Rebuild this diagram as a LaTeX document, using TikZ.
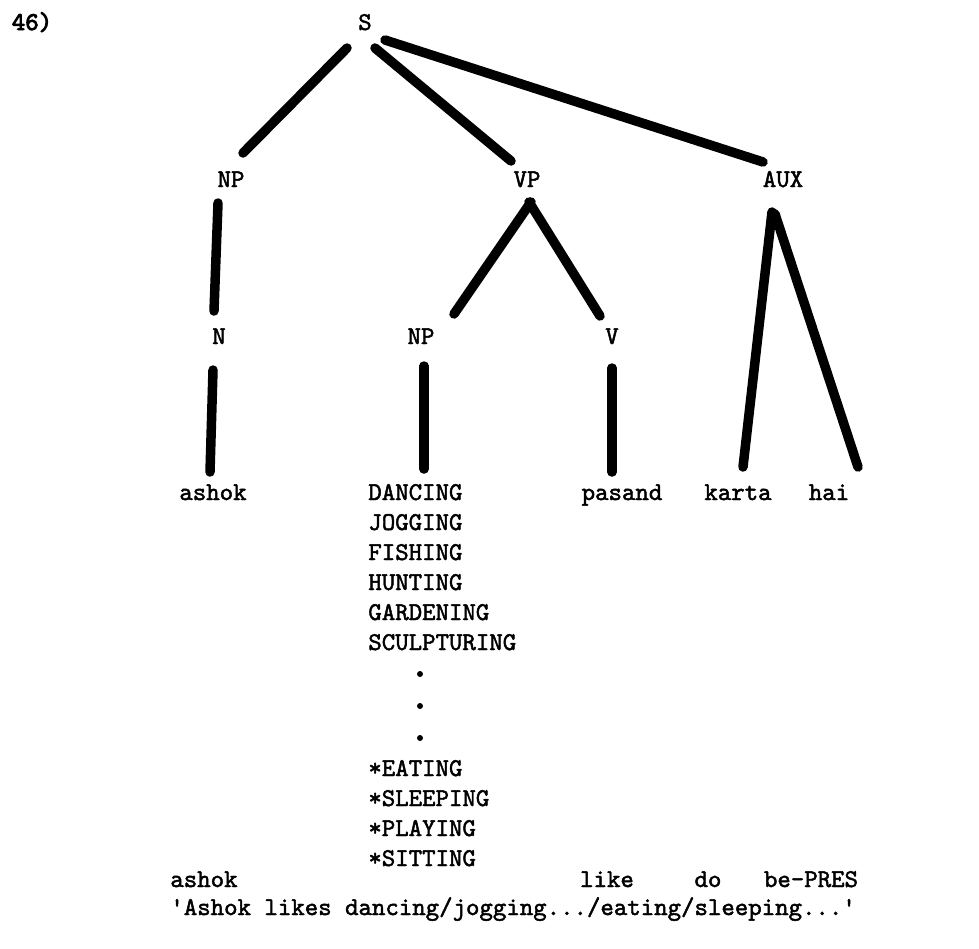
\documentclass[tikz,border=0pt]{standalone}
\usepackage{fontspec}
\newfontfamily\typed{lmmono10-regular.otf}[FakeBold=1.8]
\newfontfamily\typedbold{lmmono10-regular.otf}[FakeBold=3.5]
\usepackage{tikz}
\tikzset{every picture/.style={line width=0.75pt}}
\tikzset{branch/.style={line width=9.5pt,line cap=round}}
\tikzset{word/.style={inner sep=0pt,anchor=base,font=\fontsize{25.6}{30}\typed}}

\begin{document}
\begin{tikzpicture}[x=1pt,y=-1pt]
\useasboundingbox (0,0) rectangle (979,948);
\node[word,font=\fontsize{25.6}{30}\typedbold] (num) at (32,30) {46)};
%
\node[word] (S) at (365,30) {S};
\node[word] (NP) at (231,187) {NP};
\node[word] (VP) at (527,187) {VP};
\node[word] (AUX) at (783,187) {AUX};
\node[word] (N) at (219,344) {N};
\node[word] (NPb) at (421,344) {NP};
\node[word] (V) at (612,344) {V};
\node[word] (ashok) at (213,500) {ashok};
\node[word] (pasand) at (622,500) {pasand};
\node[word] (karta) at (738,500) {karta};
\node[word] (hai) at (829,500) {hai};
%
\foreach \w [count=\i from 0] in {DANCING,JOGGING,FISHING,HUNTING,GARDENING,SCULPTURING}
  \node[word,anchor=base west] (l\i) at (368,{500+30*\i}) {\w};
\foreach \y in {674,706,738}
  \fill (420,\y) circle (3);
\foreach \w [count=\i from 0] in {*EATING,*SLEEPING,*PLAYING,*SITTING}
  \node[word,anchor=base west] (s\i) at (368,{776+30*\i}) {\w};
%
\node[word,anchor=base west] (gashok) at (170,887) {ashok};
\node[word] (glike) at (607,887) {like};
\node[word] (gdo) at (708,887) {do};
\node[word] (gbe) at (811,887) {be-PRES};
\node[word,anchor=base west] (trans) at (170,915) {'Ashok likes dancing/jogging.../eating/sleeping...'};
%
\draw[branch] ([shift={(-18,18)}]S.base) -- ([shift={(12,-34)}]NP.base);
\draw[branch] ([shift={(10,18)}]S.base) -- ([shift={(-16,-26)}]VP.base);
\draw[branch] ([shift={(20,10)}]S.base) -- ([shift={(-20,-25)}]AUX.base);
\draw[branch] ([shift={(-13,16)}]NP.base) -- ([shift={(-5,-33)}]N.base);
\draw[branch] ([shift={(-6,26)}]N.base) -- ([shift={(-3,-28)}]ashok.base);
\draw[branch] ([shift={(4,15)}]VP.base) -- ([shift={(33,-30)}]NPb.base);
\draw[branch] ([shift={(2,15)}]VP.base) -- ([shift={(-12,-28)}]V.base);
\draw[branch] ([shift={(3,22)}]NPb.base) -- ([shift={(56,-31)}]l0.base west);
\draw[branch] ([shift={(0,24)}]V.base) -- ([shift={(-10,-28)}]pasand.base);
\draw[branch] ([shift={(-11,25)}]AUX.base) -- ([shift={(5,-33)}]karta.base);
\draw[branch] ([shift={(-8,27)}]AUX.base) -- ([shift={(29,-33)}]hai.base);
\end{tikzpicture}
\end{document}
